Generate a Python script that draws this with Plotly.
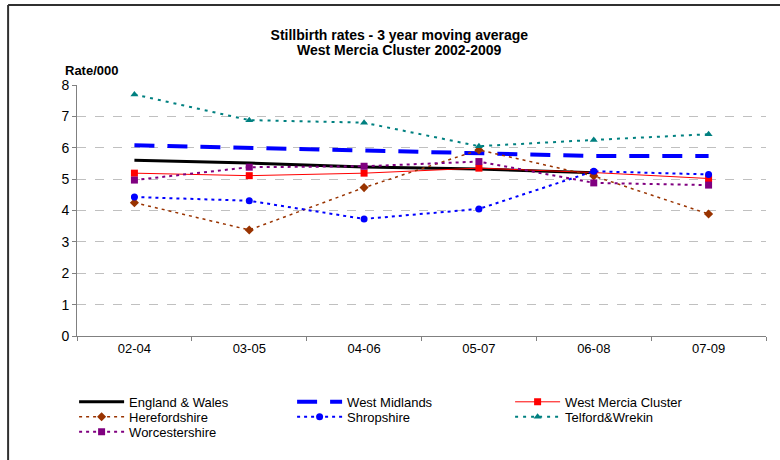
import plotly.graph_objects as go

periods = ['02-04', '03-05', '04-06', '05-07', '06-08', '07-09']

england_wales = [5.60, 5.51, 5.39, 5.32, 5.20, None]
west_midlands = [6.08, 6.00, 5.90, 5.82, 5.74, 5.74]
west_mercia = [5.19, 5.11, 5.19, 5.35, 5.21, 5.02]
herefordshire = [4.25, 3.38, 4.73, 5.93, 5.10, 3.89]
shropshire = [4.43, 4.31, 3.73, 4.05, 5.25, 5.15]
telford = [7.70, 6.88, 6.80, 6.05, 6.25, 6.43]
worcestershire = [4.97, 5.38, 5.41, 5.56, 4.88, 4.81]

fig = go.Figure()

# series styles: (name, values, colour, width, dash, marker, legend row)
series = [
    ('England & Wales', england_wales, '#000000', 3, 'solid', None, 'legend'),
    ('West Midlands', west_midlands, '#0000FF', 4, '20px,13px', None, 'legend'),
    ('West Mercia Cluster', west_mercia, '#FF0000', 1, 'solid', 'square', 'legend'),
    ('Herefordshire', herefordshire, '#993300', 1.5, '3px,4px', 'diamond', 'legend2'),
    ('Shropshire', shropshire, '#0000FF', 2, '3px,4px', 'circle', 'legend2'),
    ('Telford&Wrekin', telford, '#008080', 2, '3px,5px', 'triangle-up', 'legend2'),
    ('Worcestershire', worcestershire, '#800080', 2, '3px,4px', 'square', 'legend3'),
]

for name, vals, col, w, dash, sym, leg in series:
    if sym:
        fig.add_trace(go.Scatter(
            x=periods, y=vals, name=name, mode='lines+markers', legend=leg,
            line=dict(color=col, width=w, dash=dash),
            marker=dict(symbol=sym, size=7, color=col)))
    else:
        fig.add_trace(go.Scatter(
            x=periods, y=vals, name=name, mode='lines', legend=leg,
            line=dict(color=col, width=w, dash=dash)))

# one legend per row so the rows sit close together like the original
def legend_row(ytop):
    return dict(orientation='h', xref='container', yref='container',
                x=0.095, xanchor='left', y=ytop, yanchor='top',
                entrywidth=158, entrywidthmode='pixels', itemwidth=45,
                tracegroupgap=0, font=dict(size=13), bgcolor='rgba(0,0,0,0)')

fig.update_layout(
    width=780, height=460,
    margin=dict(l=77, r=14, t=85, b=124, autoexpand=False),
    paper_bgcolor='white', plot_bgcolor='white',
    font=dict(family='Liberation Sans, Arial', size=12, color='#000000'),
    title=dict(
        text='<b>Stillbirth rates - 3 year moving average</b>',
        x=0.512, xanchor='center', y=1 - 35 / 460, yanchor='middle',
        font=dict(size=14)),
    showlegend=True,
    legend=legend_row(0.159),
    legend2=legend_row(0.1264),
    legend3=legend_row(0.0938),
    hovermode=False,
)

fig.update_xaxes(
    type='category', showline=True, linecolor='#808080', linewidth=1,
    ticks='outside', ticklen=4, tickcolor='#808080', tickson='boundaries',
    showgrid=False, tickfont=dict(size=13), range=[-0.5, 5.5])
fig.update_yaxes(
    range=[0, 8], dtick=1, showline=True, linecolor='#808080', linewidth=1,
    ticks='outside', ticklen=4, tickcolor='#808080',
    showgrid=True, gridcolor='#C0C0C0', griddash='dash', zeroline=False,
    tickfont=dict(size=14))

# second title line, kept close to the first
fig.add_annotation(text='<b>West Mercia Cluster 2002-2009</b>',
                   xref='paper', yref='paper', x=(399 - 77) / 689, y=(336 - 50) / 251,
                   xanchor='center', yanchor='middle', showarrow=False,
                   font=dict(size=14))

fig.add_annotation(text='<b>Rate/000</b>', xref='paper', yref='paper',
                   x=-0.021, y=1.058, xanchor='left', yanchor='middle',
                   showarrow=False, font=dict(size=13))

# chart frame (top and left edges visible)
fig.add_shape(type='line', xref='paper', yref='paper',
              x0=-0.1, x1=1.1, y0=1.319, y1=1.319,
              line=dict(color='#303030', width=2))
fig.add_shape(type='line', xref='paper', yref='paper',
              x0=-0.1, x1=-0.1, y0=1.319, y1=-0.6,
              line=dict(color='#303030', width=2))

fig.write_html('out.html', config={'displayModeBar': False},
               post_script="document.body.style.margin='0px';")
